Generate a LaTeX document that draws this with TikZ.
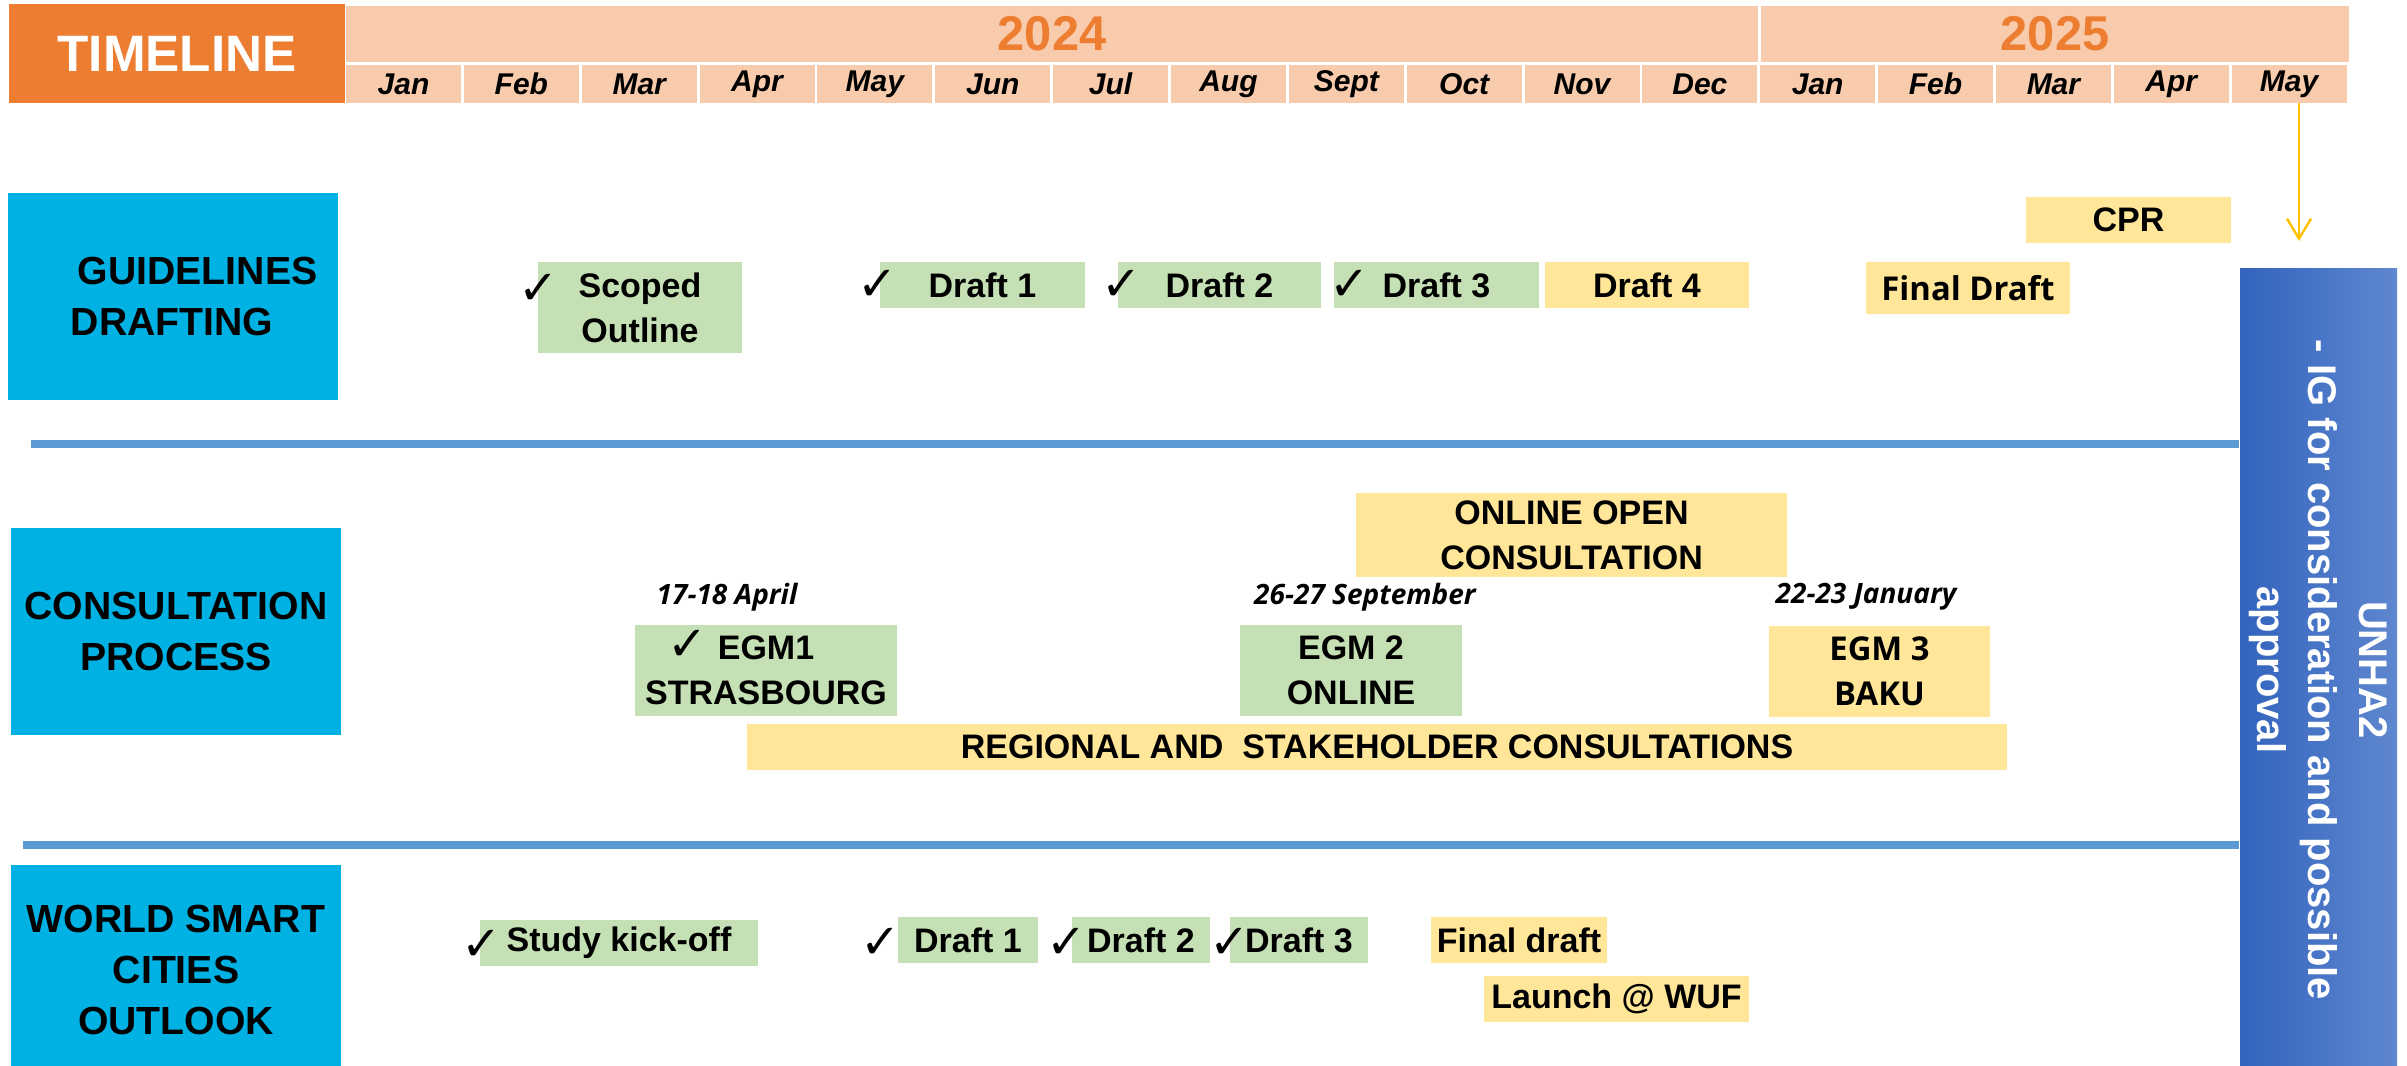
\documentclass[tikz,border=0pt]{standalone}
\usepackage{fontspec}
\setmainfont{Liberation Sans}
\newfontfamily\osans{Open Sans}
\newfontfamily\djv{DejaVu Sans}
\usetikzlibrary{arrows.meta}
\definecolor{corange}{HTML}{ED7D31}
\definecolor{cpeach}{HTML}{F8CBAD}
\definecolor{cgreen}{HTML}{C5E0B4}
\definecolor{cyellow}{HTML}{FFE699}
\definecolor{ccyan}{HTML}{00B1E3}
\definecolor{cline}{HTML}{5B9BD5}
\definecolor{cgold}{HTML}{FFC000}
\definecolor{cblueL}{HTML}{3263BD}
\definecolor{cblueR}{HTML}{5F87CF}
\begin{document}
\begin{tikzpicture}[x=0.25pt,y=-0.25pt,
  wh/.style 2 args={minimum width=#1*0.25pt, minimum height=#2*0.25pt},
  lbl/.style={inner sep=0pt, align=center, font=\bfseries\fontsize{8.5}{11.25}\selectfont},
  gbox/.style={lbl, fill=cgreen},
  ybox/.style={lbl, fill=cyellow},
  osf/.style={font=\osans\bfseries\fontsize{8.2}{11.25}\selectfont},
  tick/.style={inner sep=0pt, font=\djv\fontsize{12}{12}\selectfont},
  datelbl/.style={inner sep=0pt, font=\osans\bfseries\itshape\fontsize{7}{8}\selectfont},
  headbox/.style={fill=ccyan, inner sep=0pt},
  headtxt/.style={inner sep=0pt, align=center, font=\bfseries\fontsize{9.8}{12.75}\selectfont},
  monthcell/.style={fill=cpeach, inner sep=0pt, wh={115}{38}, font=\bfseries\itshape\fontsize{7.5}{8}\selectfont},
  yearcell/.style={fill=cpeach, inner sep=0pt, text=corange, font=\bfseries\fontsize{12.2}{13}\selectfont},
  sepline/.style={draw=cline, line width=2pt},
  arr/.style={draw=cgold, line width=0.6pt, -{Straight Barb[length=5pt,width=6pt]}},
]
\useasboundingbox (0,0) rectangle (2407,1066);
\fill[white] (0,0) rectangle (2407,1066);

% header
\node[fill=corange, inner sep=0pt, wh={336}{99}, text=white, font=\bfseries\fontsize{12.8}{14}\selectfont] (tl) at (177,53.5) {TIMELINE};
\node[yearcell, wh={1412}{56}] (y2024) at (1052,34) {2024};
\node[yearcell, wh={588}{56}] (y2025) at (2055,34) {2025};
\foreach \m [count=\i from 0] in {Jan,Feb,Mar,Apr,May,Jun,Jul,Aug,Sept,Oct,Nov,Dec,Jan,Feb,Mar,Apr,May}
  \node[monthcell] (m\i) at ({346+\i*117.85+57.5},84) {\m};

% right approval box
\node[left color=cblueL, right color=cblueR, inner sep=0pt, wh={157}{800}] (unha) at (2318.5,669) {};
\node[rotate=-90, inner sep=0pt, align=center, text=white, font=\bfseries\fontsize{10}{12.8}\selectfont] (unhatxt) at (2318.5,670) {UNHA2\\- IG for consideration and possible\\approval};

% arrow from May
\coordinate (arrS) at (2299,103);
\coordinate (arrE) at (2299,241);
\draw[arr] (arrS) -- (arrE);

% separators
\coordinate (s1) at (31,444);
\coordinate (s2) at (23,845);
\draw[sepline] (s1) -- (s1 -| unha.west);
\draw[sepline] (s2) -- (s2 -| unha.west);

% row headings
\node[headbox, wh={330}{207}] (hguid) at (173,296.5) {};
\node[headtxt, align=left, anchor=west] (hguidtxt) at (70,297) {\hspace*{1.75pt}GUIDELINES\\DRAFTING};
\node[headbox, headtxt, wh={330}{207}] (hcons) at (176,631.5) {CONSULTATION\\PROCESS};
\node[headbox, headtxt, wh={330}{210}] (hwsc) at (176,970) {WORLD SMART\\CITIES\\OUTLOOK};

% guidelines row
\node[gbox, wh={204}{91}] (scoped) at (640,307.5) {Scoped\\Outline};
\node[gbox, wh={205}{46}] (gd1) at (982.5,285) {Draft 1};
\node[gbox, wh={203}{46}] (gd2) at (1219.5,285) {Draft 2};
\node[gbox, wh={205}{46}] (gd3) at (1436.5,285) {Draft 3};
\node[ybox, wh={204}{46}] (gd4) at (1647,285) {Draft 4};
\node[ybox, osf, wh={204}{52}] (gfinal) at (1968,288) {Final Draft};
\node[ybox, wh={205}{46}] (cpr) at (2128.5,220) {CPR};
\node[tick] (t1) at (539,289) {✓};
\node[tick] (t2) at (878,285) {✓};
\node[tick] (t3) at (1122,285) {✓};
\node[tick] (t4) at (1350,285) {✓};

% consultation row
\node[ybox, wh={431}{84}] (online) at (1571.5,535) {ONLINE OPEN\\CONSULTATION};
\node[datelbl] (d1) at (727,597) {17-18 April};
\node[datelbl] (d2) at (1365,597) {26-27 September};
\node[datelbl] (d3) at (1866,597) {22-23 January};
\node[gbox, wh={262}{91}] (egm1) at (766,670.5) {EGM1\\STRASBOURG};
\node[tick] (t5) at (688,645) {✓};
\node[gbox, wh={222}{91}] (egm2) at (1351,670.5) {EGM 2\\ONLINE};
\node[ybox, osf, wh={221}{91}] (egm3) at (1879.5,671.5) {EGM 3\\BAKU};
\node[ybox, wh={1260}{46}] (regional) at (1377,747) {REGIONAL AND \ STAKEHOLDER CONSULTATIONS};

% world smart cities row
\node[gbox, wh={278}{46}] (kick) at (619,943) {Study kick-off};
\node[gbox, wh={140}{46}] (wd1) at (968,940) {Draft 1};
\node[gbox, wh={138}{46}] (wd2) at (1141,940) {Draft 2};
\node[gbox, wh={138}{46}] (wd3) at (1299,940) {Draft 3};
\node[ybox, wh={176}{46}] (wfinal) at (1519,940) {Final draft};
\node[ybox, wh={265}{46}] (launch) at (1616.5,999) {Launch @ WUF};
\node[tick] (t6) at (482,945) {✓};
\node[tick] (t7) at (881,943) {✓};
\node[tick] (t8) at (1067,943) {✓};
\node[tick] (t9) at (1230,943) {✓};
\end{tikzpicture}
\end{document}
